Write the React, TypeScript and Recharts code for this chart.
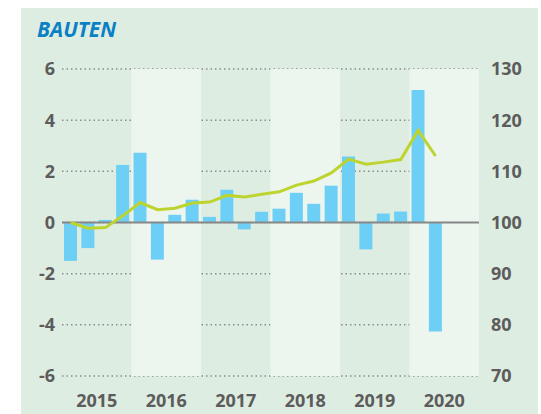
import React from 'react';
import {
    ComposedChart,
    Bar,
    Line,
    XAxis,
    YAxis,
    CartesianGrid,
    ReferenceArea,
    ReferenceLine
} from 'recharts';

const quarters = [
    '2015Q1', '2015Q2', '2015Q3', '2015Q4',
    '2016Q1', '2016Q2', '2016Q3', '2016Q4',
    '2017Q1', '2017Q2', '2017Q3', '2017Q4',
    '2018Q1', '2018Q2', '2018Q3', '2018Q4',
    '2019Q1', '2019Q2', '2019Q3', '2019Q4',
    '2020Q1', '2020Q2', '2020Q3', '2020Q4'
];

// Veränderung zum Vorquartal in %
const changes = [
    -1.5, -1.0, 0.1, 2.25,
    2.73, -1.45, 0.3, 0.89,
    0.22, 1.28, -0.27, 0.42,
    0.54, 1.16, 0.73, 1.44,
    2.58, -1.05, 0.35, 0.43,
    5.18, -4.26
];

// Index (rechte Achse)
const indexValues = [
    100, 98.9, 99.0, 101.3,
    103.9, 102.5, 102.8, 103.8,
    104.0, 105.3, 105.0, 105.5,
    106.0, 107.3, 108.1, 109.7,
    112.4, 111.4, 111.8, 112.3,
    118.0, 113.0
];

const leftTicks = [-6, -4, -2, 0, 2, 4, 6];
const rightTicks = [70, 80, 90, 100, 110, 120, 130];
const lightYears = ['2016', '2018', '2020'];

const data = quarters.map((q, i) => ({
    q,
    year: q.slice(0, 4),
    change: i < changes.length ? changes[i] : null,
    index: i < indexValues.length ? indexValues[i] : null
}));

const FONT = '"Open Sans", "Noto Sans", sans-serif';
const tickStyle = { fill: '#5c5c5c', fontSize: 18, fontWeight: 700, fontFamily: FONT };

export default function App() {
    return (
        <div style={{ position: 'absolute', left: 0, top: 0, width: 541, height: 414, overflow: 'hidden', background: '#fff' }}>
            <div style={{ position: 'absolute', left: 21, top: 8, width: 517, height: 406, background: '#deede2' }} />
            <div
                style={{
                    position: 'absolute',
                    left: 37,
                    top: 19,
                    fontFamily: FONT,
                    fontSize: 21,
                    lineHeight: 1,
                    fontWeight: 700,
                    fontStyle: 'italic',
                    color: '#0a80c5'
                }}
            >
                BAUTEN
            </div>
            <div style={{ position: 'absolute', left: 0, top: 0 }}>
                <ComposedChart width={541} height={414} data={data} margin={{ top: 69, right: 0, bottom: 0, left: 0 }}>
                    {lightYears.map((y) => (
                        <ReferenceArea
                            key={y}
                            xAxisId="year"
                            yAxisId="left"
                            x1={y}
                            x2={y}
                            fill="#edf5ef"
                            fillOpacity={1}
                            stroke="none"
                        />
                    ))}
                    <CartesianGrid
                        xAxisId="q"
                        yAxisId="left"
                        vertical={false}
                        stroke="#8c8c8c"
                        strokeWidth={1.5}
                        strokeDasharray="1.5 3"
                    />
                    <XAxis
                        xAxisId="year"
                        dataKey="year"
                        allowDuplicatedCategory={false}
                        axisLine={false}
                        tickLine={false}
                        tickSize={0}
                        tickMargin={18}
                        height={38}
                        tick={tickStyle}
                        interval={0}
                    />
                    <XAxis xAxisId="q" dataKey="q" hide height={0} />
                    <YAxis
                        yAxisId="left"
                        domain={[-6, 6]}
                        ticks={leftTicks}
                        width={62}
                        axisLine={false}
                        tickLine={false}
                        tickSize={0}
                        tickMargin={7}
                        tick={tickStyle}
                        interval={0}
                    />
                    <YAxis
                        yAxisId="right"
                        orientation="right"
                        domain={[70, 130]}
                        ticks={rightTicks}
                        width={62}
                        axisLine={false}
                        tickLine={false}
                        tickSize={0}
                        tickMargin={12}
                        tick={{ ...tickStyle, textAnchor: 'start' }}
                        interval={0}
                    />
                    <Bar
                        xAxisId="q"
                        yAxisId="left"
                        dataKey="change"
                        fill="#6dcff6"
                        barSize={13}
                        isAnimationActive={false}
                    />
                    <ReferenceLine xAxisId="q" yAxisId="left" y={0} stroke="#878787" strokeWidth={2} />
                    <Line
                        xAxisId="q"
                        yAxisId="right"
                        dataKey="index"
                        type="linear"
                        stroke="#bdd42f"
                        strokeWidth={3}
                        dot={false}
                        isAnimationActive={false}
                    />
                </ComposedChart>
            </div>
        </div>
    );
}
